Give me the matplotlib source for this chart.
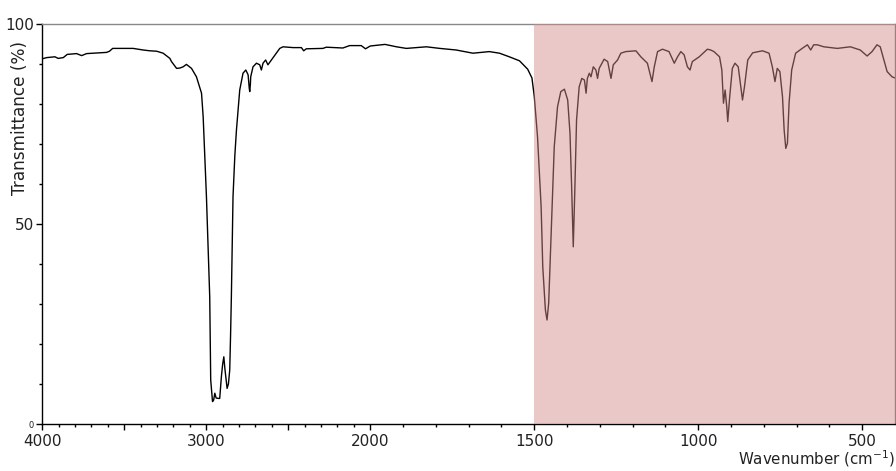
import numpy as np
import matplotlib
matplotlib.use("Agg")
import matplotlib.pyplot as plt
from matplotlib.ticker import FixedLocator

wavenumber = [4000, 3973, 3923, 3903, 3872, 3848, 3791, 3760, 3730, 3689, 3608, 3590, 3571,
              3446, 3385, 3344, 3303, 3263, 3222, 3212, 3181, 3160, 3141, 3121, 3090, 3060,
              3029, 3019, 3009, 2999, 2989, 2979, 2973, 2962, 2955, 2948, 2940, 2928, 2918,
              2908, 2900, 2893, 2887, 2881, 2873, 2865, 2857, 2852, 2847, 2837, 2826, 2816,
              2796, 2776, 2759, 2745, 2738, 2735, 2731, 2729, 2715, 2694, 2674, 2664, 2654,
              2638, 2624, 2603, 2573, 2552, 2532, 2471, 2420, 2406, 2390, 2289, 2268, 2167,
              2126, 2055, 2029, 2000, 1955, 1920, 1890, 1829, 1788, 1738, 1687, 1637, 1606,
              1576, 1545, 1520, 1507, 1500, 1490, 1479, 1474, 1466, 1461, 1456, 1447, 1439,
              1429, 1419, 1408, 1398, 1391, 1386, 1381, 1376, 1371, 1363, 1355, 1347, 1342,
              1338, 1332, 1327, 1320, 1312, 1307, 1302, 1287, 1276, 1266, 1259, 1246, 1236,
              1221, 1190, 1175, 1155, 1141, 1134, 1124, 1109, 1089, 1073, 1063, 1053, 1043,
              1033, 1025, 1018, 997, 972, 962, 952, 935, 928, 923, 918, 913, 910, 904, 896,
              888, 878, 870, 865, 859, 849, 834, 804, 784, 774, 766, 759, 751, 743, 738, 733,
              728, 723, 715, 703, 683, 667, 657, 648, 637, 617, 576, 536, 506, 485, 470, 455,
              445, 434, 424, 409, 400]
transmittance = [91.3, 91.6, 91.8, 91.4, 91.6, 92.4, 92.6, 92.1, 92.6, 92.7, 92.9, 93.2, 93.9,
                 93.9, 93.5, 93.3, 93.2, 92.7, 91.4, 90.6, 88.9, 89.0, 89.3, 89.9, 88.9, 86.8,
                 82.7, 76.8, 67.0, 56.8, 44.0, 31.8, 11.0, 5.6, 6.0, 7.7, 6.5, 6.4, 6.4,
                 11.8, 15.0, 16.8, 14.0, 11.8, 8.9, 10.0, 13.5, 22.0, 31.8, 56.8, 67.0, 73.5,
                 83.5, 87.7, 88.5, 87.3, 84.0, 83.1, 85.0, 86.8, 89.3, 90.2, 89.8, 88.5, 90.2,
                 91.0, 89.8, 91.0, 92.7, 93.9, 94.3, 94.1, 94.1, 93.3, 93.8, 93.9, 94.2, 94.0,
                 94.6, 94.6, 93.8, 94.5, 94.9, 94.3, 93.9, 94.3, 93.9, 93.5, 92.7, 93.1, 92.7,
                 91.8, 90.8, 88.7, 86.5, 82.0, 71.8, 54.3, 39.3, 28.5, 26.0, 30.2, 51.0, 69.3,
                 79.3, 83.1, 83.7, 81.0, 72.7, 59.3, 44.3, 59.3, 76.0, 84.3, 86.4, 86.0, 82.7,
                 86.4, 87.7, 86.8, 89.3, 88.5, 86.4, 88.9, 91.2, 90.6, 86.4, 89.8, 91.0, 92.7,
                 93.1, 93.3, 91.8, 90.2, 85.6, 89.3, 93.1, 93.7, 93.1, 90.2, 91.8, 93.1, 92.3,
                 89.3, 88.5, 90.6, 91.8, 93.7, 93.5, 93.1, 91.8, 88.5, 80.2, 83.5, 79.3, 75.6, 81.8, 88.9,
                 90.2, 89.3, 84.3, 81.0, 84.3, 91.0, 92.8, 93.3, 92.7, 89.3, 85.6, 88.9, 88.1, 81.8, 73.5, 68.9,
                 70.2, 80.2, 88.5, 92.7, 93.9, 94.8, 93.5, 94.8, 94.8, 94.3, 93.9, 94.3, 93.5, 92.0, 93.1, 94.8,
                 94.3, 91.0, 88.1, 86.8, 86.5]

x_major = [4000, 3000, 2000, 1500, 1000, 500]
x_labels = ["4000", "3000", "2000", "1500", "1000", "500"]
y_major = [0, 50, 100]
y_labels = ["0", "50", "100"]
highlight = [1500, 400]


def fwd(x):
    x = np.asarray(x, dtype=float)
    return np.where(x <= 2000, x, 2000 + (x - 2000) / 2.0)


def inv(u):
    u = np.asarray(u, dtype=float)
    return np.where(u <= 2000, u, 2000 + (u - 2000) * 2.0)


fig = plt.figure(figsize=(8.96, 4.71), dpi=100)
ax = fig.add_axes([42.3 / 896, 1 - 424 / 471, (895 - 42.3) / 896, 400 / 471])
ax.set_xscale('function', functions=(fwd, inv))
ax.plot(wavenumber, transmittance, color='black', lw=1.0, zorder=2)
ax.axvspan(highlight[0], highlight[1], color='#d58a8a', alpha=0.47, lw=0, zorder=3)
ax.set_xlim(4000, 400)
ax.set_ylim(0, 100)

ax.set_xticks(x_major + [3500, 2500])
ax.set_xticklabels(x_labels + ["", ""])
ax.xaxis.set_minor_locator(FixedLocator(list(range(4000, 400, -100))))
ax.set_yticks(y_major)
ax.set_yticklabels(y_labels)
ax.yaxis.set_minor_locator(FixedLocator(list(range(0, 101, 10))))

ax.tick_params(axis='both', which='major', direction='out', length=4, width=1,
               labelsize=11, colors='black', labelcolor='#222222')
ax.tick_params(axis='both', which='minor', direction='out', length=2.5, width=1)
ax.tick_params(axis='x', which='major', pad=3)
ax.tick_params(axis='y', which='major', pad=2)
ylbls = ax.get_yticklabels()
ylbls[0].set_fontsize(6)

for s in ['top', 'right']:
    ax.spines[s].set_color('#888888')
    ax.spines[s].set_linewidth(1)
for s in ['left', 'bottom']:
    ax.spines[s].set_color('black')
    ax.spines[s].set_linewidth(1)

fig.text(20 / 896, 1 - 118 / 471, "Transmittance (%)", rotation=90,
         ha='center', va='center', fontsize=12.2, color='#222222')
fig.text(895 / 896, 1 - 459 / 471, "Wavenumber (cm$^{-1}$)",
         ha='right', va='center', fontsize=10.8, color='#222222')

fig.savefig("out.png", dpi=100)
